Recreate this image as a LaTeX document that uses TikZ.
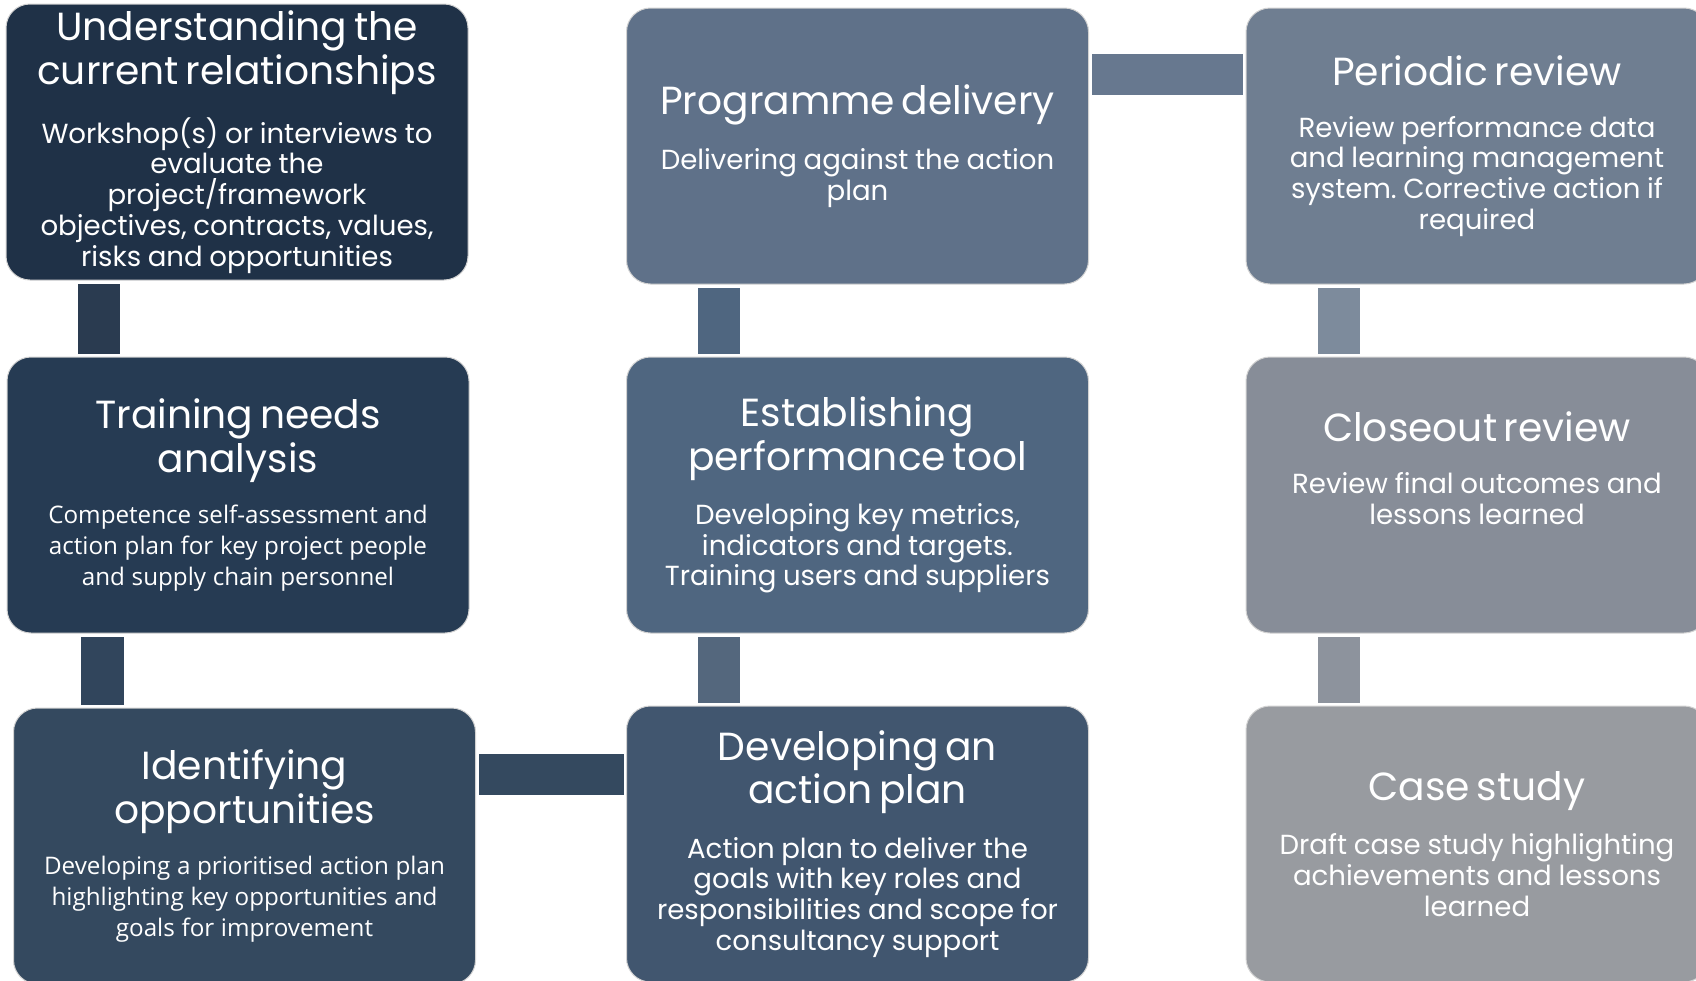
\documentclass[tikz,border=0pt]{standalone}
\usepackage{fontspec}
\setmainfont{Poppins}
\newfontfamily\osans{Open Sans}
\usetikzlibrary{calc}
\frenchspacing
\definecolor{cund}{HTML}{1F3147}
\definecolor{ctna}{HTML}{263B53}
\definecolor{cido}{HTML}{34495F}
\definecolor{cdap}{HTML}{41566F}
\definecolor{cest}{HTML}{4F6680}
\definecolor{cpdel}{HTML}{5F7189}
\definecolor{cprev}{HTML}{6F7E91}
\definecolor{ccrev}{HTML}{878D98}
\definecolor{ccase}{HTML}{989BA0}
\newcommand\ttl{\fontsize{19.6}{21.8}\selectfont}
\newcommand\bdy{\fontsize{13.8}{15.4}\selectfont}
\newcommand\obdy{\osans\fontsize{12.1}{15.4}\selectfont}

\begin{document}
\begin{tikzpicture}[x=0.5pt, y=-0.5pt,
  box/.style={rounded corners=12pt, draw=gray!35, line width=0.5pt, inner sep=0pt,
    minimum width=231pt, minimum height=138pt, text width=229pt, align=center, text=white}]
\clip (0,0) rectangle (1696,980);
\node[box, fill=cund] (und) at (237,142) {{\ttl Understanding the\\current relationships\par}\vspace{10.5pt}{\bdy Workshop(s) or interviews to\\evaluate the\\project/framework\\objectives, contracts, values,\\risks and opportunities\par}};
\node[box, fill=ctna] (tna) at (238,495) {{\ttl Training needs\\analysis\par}\vspace{10.5pt}{\obdy Competence self-assessment and\\action plan for key project people\\and supply chain personnel\par}};
\node[box, fill=cido] (ido) at (244.5,846) {{\ttl Identifying\\opportunities\par}\vspace{10.5pt}{\obdy Developing a prioritised action plan\\highlighting key opportunities and\\goals for improvement\par}};
\node[box, fill=cpdel] (pdel) at (857.5,146) {{\ttl Programme delivery\par}\vspace{10.5pt}{\bdy Delivering against the action\\plan\par}};
\node[box, fill=cest] (est) at (857.5,495) {{\ttl Establishing\\performance tool\par}\vspace{10.5pt}{\bdy Developing key metrics,\\indicators and targets.\\Training users and suppliers\par}};
\node[box, fill=cdap] (dap) at (857.5,844) {{\ttl Developing an\\action plan\par}\vspace{10.5pt}{\bdy Action plan to deliver the\\goals with key roles and\\responsibilities and scope for\\consultancy support\par}};
\node[box, fill=cprev] (prev) at (1477,146) {{\ttl Periodic review\par}\vspace{10.5pt}{\bdy Review performance data\\and learning management\\system. Corrective action if\\required\par}};
\node[box, fill=ccrev] (crev) at (1477,495) {{\ttl Closeout review\par}\vspace{10.5pt}{\bdy Review final outcomes and\\lessons learned\par}\vspace{27pt}};
\node[box, fill=ccase] (case) at (1477,844) {{\ttl Case study\par}\vspace{10.5pt}{\bdy Draft case study highlighting\\achievements and lessons\\learned\par}};
\fill[cund!95!white] ($(und.south west)+(72.5,3)$) rectangle ($(tna.north west)+(113,-3)$);
\fill[ctna!95!white] ($(tna.south west)+(74.5,3)$) rectangle ($(ido.north west)+(111,-3)$);
\fill[cido] ($(ido.north east)+(3,46)$) rectangle ($(dap.west |- ido.north)+(-2,87)$);
\fill[cdap!90!white] ($(est.south west)+(72,3)$) rectangle ($(dap.north west)+(114,-3)$);
\fill[cest] ($(pdel.south west)+(72,3)$) rectangle ($(est.north west)+(114,-3)$);
\fill[cpdel!95!white] ($(pdel.north east)+(3,46)$) rectangle ($(prev.north west)+(-3,87)$);
\fill[cprev!90!white] ($(prev.south west)+(72,3)$) rectangle ($(crev.north west)+(114,-3)$);
\fill[ccrev!95!white] ($(crev.south west)+(72,3)$) rectangle ($(case.north west)+(114,-3)$);
\end{tikzpicture}
\end{document}
